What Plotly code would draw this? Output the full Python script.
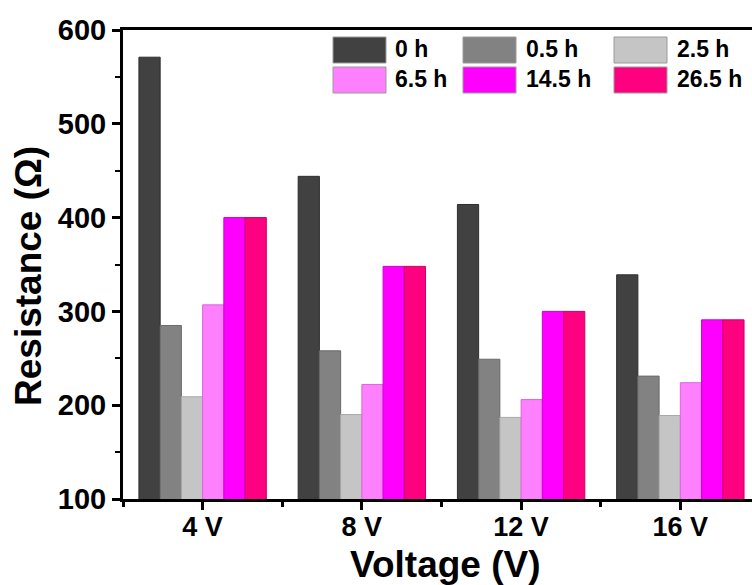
import plotly.graph_objects as go

# ---- data ----
voltages = ["4 V", "8 V", "12 V", "16 V"]
series_names = ["0 h", "0.5 h", "2.5 h", "6.5 h", "14.5 h", "26.5 h"]
r_0h = [571, 444, 414, 339]
r_05h = [285, 258, 249, 231]
r_25h = [209, 190, 187, 189]
r_65h = [307, 222, 206, 224]
r_145h = [400, 348, 300, 291]
r_265h = [400, 348, 300, 291]
y_ticks = [100, 200, 300, 400, 500, 600]

series_values = [r_0h, r_05h, r_25h, r_65h, r_145h, r_265h]
fill_colors = ["#414141", "#828282", "#c5c5c5", "#ff80ff", "#ff00ff", "#ff0080"]
line_colors = ["#2e2e2e", "#6a6a6a", "#a8a8a8", "#d868d8", "#cc00cc", "#c8006a"]

W, H = 752, 585
ML, MR, MT, MB = 123, 0, 30, 86
PW, PH = W - ML - MR, H - MT - MB
FONT = "Liberation Sans, Arial, sans-serif"

def px(x):
    return (x - ML) / PW

def py(y):
    return (H - MB - y) / PH

xs = list(range(len(voltages)))
fig = go.Figure()
for name, vals, fc, lc in zip(series_names, series_values, fill_colors, line_colors):
    fig.add_trace(go.Bar(x=xs, y=vals, name=name, showlegend=False,
                         marker=dict(color=fc, line=dict(color=lc, width=1))))

# custom legend (large swatches like the original)
leg_cols = [(333, 393), (463, 524), (614, 675)]
leg_rows = [(37, 63), (67, 93)]
shapes, annotations = [], []
for i, (name, fc, lc) in enumerate(zip(series_names, fill_colors, line_colors)):
    r, c = divmod(i, 3)
    sx, tx = leg_cols[c]
    y0, y1 = leg_rows[r]
    shapes.append(dict(type="rect", xref="paper", yref="paper",
                       x0=px(sx), x1=px(sx + 53), y0=py(y1), y1=py(y0),
                       fillcolor=fc, line=dict(color="#9a9a9a", width=1), layer="above"))
    annotations.append(dict(text=name, xref="paper", yref="paper", x=px(tx), y=py((y0 + y1) / 2 - 1),
                            xanchor="left", yanchor="middle", showarrow=False,
                            font=dict(family=FONT, size=23, color="black", weight="bold")))

annotations.append(dict(text="Voltage (V)", xref="paper", yref="paper", x=px(445), y=py(564),
                        xanchor="center", yanchor="middle", showarrow=False,
                        font=dict(family=FONT, size=37, color="black", weight="bold")))
annotations.append(dict(text="Resistance (\u03a9)", xref="paper", yref="paper", x=px(28), y=py(276),
                        xanchor="center", yanchor="middle", showarrow=False, textangle=-90,
                        font=dict(family=FONT, size=37, color="black", weight="bold")))

fig.update_layout(
    width=W, height=H,
    margin=dict(l=ML, r=MR, t=MT, b=MB, pad=0),
    paper_bgcolor="white", plot_bgcolor="white",
    barmode="group", bargap=0.2, bargroupgap=0,
    shapes=shapes, annotations=annotations,
    font=dict(family=FONT, color="black"),
)
fig.update_xaxes(
    range=[-0.5, 3.45], tickmode="array", tickvals=xs, ticktext=voltages,
    showline=True, linecolor="black", linewidth=3, mirror=True,
    ticks="outside", ticklen=8, tickwidth=3, tickcolor="black",
    minor=dict(tick0=0.5, dtick=1, ticks="outside", ticklen=5, tickwidth=3, tickcolor="black"),
    showgrid=False, zeroline=False, ticklabelstandoff=-6,
    tickfont=dict(family=FONT, size=27, color="black", weight="bold"),
)
fig.update_yaxes(
    range=[100, 600], tickmode="array", tickvals=y_ticks,
    showline=True, linecolor="black", linewidth=3, mirror=False,
    ticks="outside", ticklen=8, tickwidth=3, tickcolor="black",
    minor=dict(dtick=50, ticks="outside", ticklen=5, tickwidth=2, tickcolor="black"),
    showgrid=False, zeroline=False,
    tickfont=dict(family=FONT, size=29, color="black", weight="bold"),
)

fig.write_html("out.html")
